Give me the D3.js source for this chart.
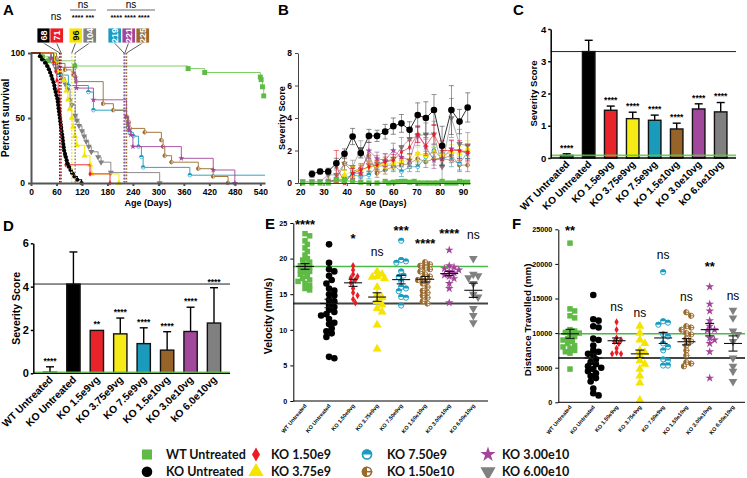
<!DOCTYPE html>
<html><head><meta charset="utf-8">
<script src="https://cdn.jsdelivr.net/npm/d3@7"></script>
<style>body{margin:0;background:#fff}svg{display:block}</style>
</head><body>
<svg id="c" width="747" height="478"></svg>
<script>
// ================= DATA =================
const groupNames = ["WT Untreated","KO Untreated","KO 1.50e9","KO 3.75e9","KO 7.50e9","KO 1.50e10","KO 3.00e10","KO 6.00e10"];
const groupColors = ["#5fbb46","#000000","#ec1c24","#f4e400","#1b9bbf","#9a6a2c","#a3469b","#808080"];
const symTypes = ["square","circle","diamond","triUp","half","quarter","star","triDown"];
const barLabels = ["WT Untreated","KO Untreated","KO 1.5e9vg","KO 3.75e9vg","KO 7.5e9vg","KO 1.5e10vg","KO 3.0e10vg","kO 6.0e10vg"];
const smallLabels = ["WT Untreated","KO Untreated","KO 1.50e9vg","KO 3.75e9vg","KO 7.50e9vg","KO 1.50e10vg","KO 3.00e10vg","KO 6.00e10vg"];

// Panel A: Kaplan-Meier steps [day, percent surviving]
const survWT = [[0,100],[27,97],[41,94],[103,90],[370,88],[409,85],[540,81.5],[542,79.5],[545,74],[548,67]];
const survKO = [[0,100],[21,97.5],[26,95],[33,92.5],[38,90],[42,87.5],[45,85],[48,82.5],[50,80],[53,77.5],[55,75],[56,72.5],[58,70],[60,67.5],[62,65],[63,62.5],[64,60],[65,57.5],[66,55],[67,52.5],[68,50],[69,47.5],[70,45],[71,42.5],[72,40],[73,37.5],[74,35],[75,32.5],[76,30],[77,27.5],[78,25],[80,22.5],[82,20],[84,17.5],[86,15],[89,12.5],[93,10],[97,7.5],[102,5],[109,2.5],[119,0]];
const survR = [[0,100],[53,93],[58,86],[61,79],[64,71],[66,64],[68,57],[70,50],[72,43],[74,36],[77,29],[79,21],[82,14],[139,7],[186,0]];
const survY = [[0,100],[55,93],[67,86],[77,79],[83,71],[87,64],[91,57],[96,50],[99,43],[103,36],[108,29],[126,21],[139,14],[143,7],[207,0]];
const survT = [[0,100],[55,94],[64,83],[88,75],[135,70],[147,56],[225,50],[228,43],[233,39],[241,36],[253,28],[260,20],[264,12],[374,6],[551,6]];
const survB = [[0,100],[60,96],[64,92],[80,87],[100,83],[107,78],[170,61],[194,56],[225,51],[230,47],[233,42],[268,39],[307,33],[311,28],[315,21],[331,16],[394,11],[429,5],[464,0]];
const survP = [[0,100],[48,96],[55,92],[67,89],[100,85],[105,81],[107,73],[147,64],[225,51],[228,46],[230,41],[235,37],[240,28],[354,19],[429,10],[480,0]];
const survG = [[0,100],[46,96],[53,92],[59,88],[67,84],[75,80],[81,76],[86,72],[92,64],[96,60],[104,52],[108,48],[113,44],[120,40],[125,36],[130,32],[136,28],[142,24],[158,20],[165,16],[188,8],[303,0]];
const ageTicksA = [0,60,120,180,240,300,360,420,480,540];
const medianDays = [68,71,96,104,219,221,225];
const medianLabels = ["68","71","96","104","219","221","225"];
const medianColors = ["#000000","#ec1c24","#f4e400","#808080","#1b9bbf","#a3469b","#9a6a2c"];

// Panel B: severity over age
const sevDays = [21,25,28.5,32,35.5,39,42.5,46,49.5,53,56.5,60,63.5,67,70.5,74,77.5,81,85,88.5,92];
const sevKO   = [null,0.55,0.71,0.71,1.22,1.8,2.86,1.84,2.9,2.9,3.16,3.5,3.67,3.27,4.18,4.0,4.49,2.29,4.49,3.78,4.65];
const sevKOErr= [null,0.2,0.15,0.2,0.3,0.3,0.5,0.3,0.4,0.35,0.45,0.5,0.55,0.5,0.75,1.0,0.95,1.2,1.5,0.75,0.9];
const sevR    = [null,null,null,null,1.0,0.05,0.6,0.8,1.0,1.1,1.3,1.4,1.9,2.2,3.0,2.3,3.0,2.0,2.0,2.0,1.9];
const sevRErr = [null,null,null,null,1.0,0.05,0.3,0.3,0.3,0.3,0.3,0.35,0.4,0.4,0.5,0.5,0.6,0.6,0.6,0.6,0.5];
const sevY    = [null,null,null,0.1,0.1,0.5,0.7,0.8,1.0,1.1,1.2,1.2,1.3,1.4,1.8,1.7,1.9,1.7,1.9,1.8,2.1];
const sevYErr = [null,null,null,0.1,0.1,0.3,0.3,0.3,0.3,0.3,0.3,0.3,0.35,0.35,0.4,0.4,0.4,0.4,0.45,0.45,0.5];
const sevT    = [null,null,null,0.1,0.1,0.3,0.5,0.4,0.5,1.0,1.1,1.1,0.7,1.0,1.0,1.6,2.0,1.5,1.4,1.2,1.9];
const sevTErr = [null,null,null,0.1,0.1,0.2,0.25,0.25,0.25,0.3,0.3,0.3,0.3,0.3,0.3,0.35,0.35,0.35,0.4,0.4,0.4];
const sevB    = [null,null,null,0.1,0.2,1.2,0.7,0.9,1.7,0.6,0.8,1.0,1.1,1.2,1.5,1.3,1.5,1.5,1.7,1.1,1.1];
const sevBErr = [null,null,null,0.1,0.15,0.4,0.3,0.3,0.3,0.25,0.25,0.3,0.3,0.3,0.35,0.35,0.4,0.4,0.45,0.4,0.4];
const sevP    = [null,null,null,0.1,0.2,0.0,0.6,0.6,2.0,1.5,1.4,2.0,1.6,1.4,3.0,2.2,1.4,1.5,2.1,2.0,1.8];
const sevPErr = [null,null,null,0.1,0.15,0.05,0.3,0.3,0.5,0.4,0.4,0.45,0.4,0.4,0.5,0.5,0.5,0.5,0.55,0.5,0.5];
const sevG    = [0.1,0.1,0.1,0.5,0.5,1.2,1.0,2.1,1.1,1.2,1.3,1.5,2.2,2.7,2.9,3.0,3.0,1.0,4.0,2.4,2.3];
const sevGErr = [0.1,0.1,0.1,0.2,0.3,0.4,0.4,0.5,0.5,0.5,0.5,0.55,0.6,0.6,0.6,0.7,0.8,0.8,1.2,0.9,0.8];
const wtSevDays = [21,25,28.5,32,35.5,39,42.5,46,49.5,53,56.5,58,60,62,63.5,65,67,69,70.5,72,74,75.5,77.5,79,81,83,85,87,88.5,90,92];
const wtSev     = [0,0,0,0,0.2,0.15,0.1,0.05,0,0,0.1,0,0.05,0.08,0.1,0.1,0.05,0.1,0,0,0,0,0,0,0.1,0,0,0,0.1,0.05,0.05];
const ageTicksB = [20,30,40,50,60,70,80,90];

// Panel C / D: severity bars
const cMeans = [0.08,3.3,1.48,1.22,1.17,0.9,1.52,1.43];
const cErrs  = [0.05,0.35,0.13,0.2,0.16,0.18,0.16,0.29];
const cStats = ["****","","****","****","****","****","****","****"];
const dMeans = [0.05,4.12,1.98,1.82,1.37,1.07,1.93,2.32];
const dErrs  = [0.25,1.48,0,0.73,0.73,0.85,1.12,1.63];
const dStats = ["****","","**","****","****","****","****","****"];
const barColors = ["#1d6b33","#000000","#e8232a","#f6eb14","#1b9bbb","#966428","#a1489c","#808080"];

// Panel E: velocity (mm/s)
const velWT = [23.5,23.2,22.5,22,21.5,21,20.5,20,19.8,19.5,19.2,19,18.8,18.6,18.4,18.2,18,17.8,17.5,17.2,17,16.8,16.5,16.2,15.8,15.6];
const velKO = [22,19.4,18.5,18.2,17.6,17.0,16.5,15.8,15.5,15.0,14.8,14.2,14.0,13.5,13.2,12.8,12.5,12.2,12.0,11.5,11.0,10.8,10.2,9.8,9.5,9.0,6.2,6.0];
const velR  = [19.0,18.4,17.8,17.5,17.3,17.0,16.6,15.8,15.2,14.8,14.3,13.8];
const velY  = [18.2,17.8,17.5,17.4,17.2,16.0,15.0,14.5,14.0,13.5,13.0,12.5,10.7,7.3];
const velT  = [22.5,19.8,19.6,19.4,18.2,17.6,17.4,16.8,16.0,15.8,15.4,14.6,14.5,13.4];
const velB  = [19.5,19.2,19.0,18.7,18.5,18.2,17.8,17.5,17.2,17.0,16.8,16.5,16.0,15.5,15.2,14.8,14.5,14.0,13.7];
const velP  = [21.2,19.0,18.8,18.6,18.4,18.2,18.0,17.7,17.5,17.2,16.5,15.8,13.8];
const velG  = [20.0,17.8,17.6,17.3,16.5,15.0,14.6,13.0,12.0,11.0];
const velMean = [18.9,13.7,16.6,14.6,17.05,17.1,17.9,15.55];
const velSem  = [0.4,0.6,0.5,0.6,0.6,0.4,0.3,1.0];
const velStats = ["****","","*","ns","***","****","****","ns"];
const velStatsAt = [25.0,null,23.0,20.9,24.2,22.3,23.7,23.2];
const velTicks = [0,5,10,15,20,25];

// Panel F: distance travelled (mm)
const distWT = [23000,13500,13200,12500,12200,10500,10300,10100,10000,9800,9500,9200,9000,8800,8500,8200,8000,7800,7500,7300,7100,4800];
const distKO = [15500,12000,11800,11000,10800,9200,9000,8200,7500,7300,7000,6800,6200,5800,5500,5200,5000,4800,4500,4200,3800,3500,3000,2000,1300,1000];
const distR  = [11600,10500,9300,9000,8800,8500,7800,7200,7000,7000];
const distY  = [11000,10000,9000,8500,7500,7200,6800,6000,5500,4800,3800,2800,300];
const distT  = [18800,11700,11500,11200,9800,9500,8500,8000,7500,6200,6000,5300,5300];
const distB  = [13000,12500,11000,10800,10500,10000,9800,9200,8800,8200,7500,6800,5800,5600,5200];
const distP  = [16700,14200,13200,11800,11000,10500,10400,9300,9000,8500,7300,3500];
const distG  = [13300,12200,10300,9800,8800,6400,5200,4500,3000];
const distMean = [9900,6400,8900,7000,9300,8750,10500,8500];
const distSem  = [650,600,400,550,800,450,900,1100];
const distStats = ["**","","ns","ns","ns","ns","**","ns"];
const distStatsAt = [25000,null,13650,12900,21150,15200,19850,15350];
const distTicks = [0,5000,10000,15000,20000,25000];

// ================= DRAWING =================
const F = '"Liberation Sans", Arial, Helvetica, sans-serif';
const svg = d3.select("#c");
svg.append("rect").attr("width",747).attr("height",478).attr("fill","#fff");

function T(p,x,y,s,o={}){
  const t = p.append("text").attr("x",x).attr("y",y).text(s)
    .attr("font-family",o.ff||F).attr("font-size",o.fs||10).attr("font-weight",o.fw||"bold")
    .attr("fill",o.fill||"#000").attr("text-anchor",o.anchor||"start");
  if(o.rot!=null) t.attr("transform",`rotate(${o.rot},${x},${y})`);
  if(o.db) t.attr("dominant-baseline",o.db);
  return t;
}
function styleAxis(g,fs,lw,col){
  g.attr("font-family",null).attr("font-size",null);
  g.selectAll("text").attr("font-family",F).attr("font-size",fs).attr("font-weight","bold").attr("fill","#000");
  g.selectAll(".tick line").attr("stroke",col).attr("stroke-width",lw);
  g.select(".domain").attr("stroke",col).attr("stroke-width",lw);
}
function sym(p,type,x,y,r,color){
  const g = p.append("g").attr("transform",`translate(${x},${y})`);
  if(type==="half"){
    g.append("circle").attr("r",r*0.85).attr("fill","#fff").attr("stroke",color).attr("stroke-width",r*0.3);
    g.append("path").attr("d",`M${-r},0A${r},${r} 0 0 1 ${r},0Z`).attr("fill",color);
  } else if(type==="quarter"){
    g.append("circle").attr("r",r*0.85).attr("fill","#fff").attr("stroke",color).attr("stroke-width",r*0.3);
    g.append("path").attr("d",`M0,${-r}A${r},${r} 0 0 0 0,${r}Z`).attr("fill",color);
    g.append("line").attr("x1",0).attr("x2",r).attr("y1",0).attr("y2",0).attr("stroke",color).attr("stroke-width",r*0.3);
  } else {
    const m = {square:d3.symbolSquare,circle:d3.symbolCircle,diamond:d3.symbolDiamond,triUp:d3.symbolTriangle,triDown:d3.symbolTriangle,star:d3.symbolStar}[type];
    const a = {square:3.6*r*r,circle:Math.PI*r*r,diamond:2.0*r*r,triUp:3.6*r*r,triDown:3.6*r*r,star:2.6*r*r}[type];
    const path = g.append("path").attr("d",d3.symbol(m,a)()).attr("fill",color);
    if(type==="triDown") path.attr("transform","rotate(180)");
  }
  return g;
}

// ---------- Panel A ----------
{
  const g = svg.append("g");
  const xA = d3.scaleLinear().domain([0,551]).range([31,265]);
  const yA = d3.scaleLinear().domain([0,100]).range([183,53]);
  T(g,3,15,"A",{fs:15});
  const survAll = [survWT,survKO,survR,survY,survT,survB,survP,survG];
  const order = [0,7,4,5,6,3,2,1];
  const line = d3.line().x(d=>xA(d[0])).y(d=>yA(d[1])).curve(d3.curveStepAfter);
  order.forEach(i=>{
    const col = i===0 ? "#6fcb55" : groupColors[i];
    g.append("path").datum(survAll[i]).attr("d",line).attr("fill","none").attr("stroke",col).attr("stroke-width",i===1?1.2:1).attr("opacity",i===1?1:0.9);
    survAll[i].slice(1).forEach(d=>{
      if(d[0]>=551) return;
      sym(g,symTypes[i],xA(d[0]),yA(d[1]),i===0?2.6:2.1,groupColors[i]);
    });
  });
  medianDays.forEach((m,i)=>{
    g.append("line").attr("x1",xA(m)).attr("x2",xA(m)).attr("y1",yA(100)).attr("y2",yA(0))
      .attr("stroke",medianColors[i]).attr("stroke-width",1.4).attr("stroke-dasharray","1.6,1.6");
  });
  const ax = g.append("g").attr("transform","translate(0,183)")
    .call(d3.axisBottom(xA).tickValues(ageTicksA).tickSize(3).tickSizeOuter(0));
  styleAxis(ax,8.5,2,"#555");
  const ay = g.append("g").attr("transform","translate(31,0)")
    .call(d3.axisLeft(yA).tickValues([0,50,100]).tickSize(3).tickSizeOuter(0));
  styleAxis(ay,8.5,2,"#555");
  T(g,9,118,"Percent survival",{fs:10.2,anchor:"middle",rot:-90});
  T(g,148,206,"Age (Days)",{fs:9,anchor:"middle"});
  const boxX = [37,50,69,83,108,122,136];
  medianLabels.forEach((lab,i)=>{
    g.append("line").attr("x1",boxX[i]+6.5).attr("y1",43).attr("x2",xA(medianDays[i])).attr("y2",53)
      .attr("stroke","#333").attr("stroke-width",0.8);
    g.append("rect").attr("x",boxX[i]).attr("y",28).attr("width",13.5).attr("height",15)
      .attr("fill",medianColors[i]).attr("stroke","#fff").attr("stroke-width",0.8);
    T(g,boxX[i]+7,35.5,lab,{fs:9,anchor:"middle",db:"central",rot:-90,fill:i===2?"#000":"#fff"});
  });
  T(g,56,20,"ns",{fs:10,fw:"normal",anchor:"middle"});
  g.append("line").attr("x1",70).attr("x2",96).attr("y1",10).attr("y2",10).attr("stroke","#444").attr("stroke-width",0.8);
  T(g,83,8,"ns",{fs:10,fw:"normal",anchor:"middle"});
  T(g,83,20,"**** ***",{fs:7.5,fw:"bold",anchor:"middle"});
  g.append("line").attr("x1",107).attr("x2",155).attr("y1",10).attr("y2",10).attr("stroke","#444").attr("stroke-width",0.8);
  T(g,131,8,"ns",{fs:10,fw:"normal",anchor:"middle"});
  T(g,130,20,"**** **** ****",{fs:7.5,fw:"bold",anchor:"middle"});
}

// ---------- Panel B ----------
{
  const g = svg.append("g");
  const xB = d3.scaleLinear().domain([19,93]).range([298,470]);
  const yB = d3.scaleLinear().domain([0,8]).range([183,53]);
  T(g,278,15,"B",{fs:15});
  const vals = [null,sevKO,sevR,sevY,sevT,sevB,sevP,sevG];
  const errs = [null,sevKOErr,sevRErr,sevYErr,sevTErr,sevBErr,sevPErr,sevGErr];
  const line = d3.line().defined(d=>d[1]!=null).x(d=>xB(d[0])).y(d=>yB(d[1]));
  const order = [7,5,4,3,6,2,1];
  order.forEach(i=>{
    const pts = sevDays.map((d,k)=>[d,vals[i][k],errs[i][k]]);
    const col = groupColors[i];
    const ecol = i===1 ? "#444" : col;
    pts.forEach(p=>{
      if(p[1]==null) return;
      const y1 = yB(Math.max(0,p[1]-p[2])), y2 = yB(p[1]+p[2]), x = xB(p[0]);
      g.append("line").attr("x1",x).attr("x2",x).attr("y1",y1).attr("y2",y2).attr("stroke",ecol).attr("stroke-width",0.8).attr("opacity",0.75);
      [y1,y2].forEach(yy=>g.append("line").attr("x1",x-2.5).attr("x2",x+2.5).attr("y1",yy).attr("y2",yy).attr("stroke",ecol).attr("stroke-width",0.8).attr("opacity",0.75));
    });
    g.append("path").datum(pts).attr("d",line).attr("fill","none").attr("stroke",i===1?"#333":col).attr("stroke-width",i===1?1:0.8).attr("opacity",i===1?1:0.8);
    pts.forEach(p=>{ if(p[1]!=null) sym(g,symTypes[i],xB(p[0]),yB(p[1]),i===1?3.3:2.2,col); });
  });
  const wtPts = wtSevDays.map((d,k)=>[d,wtSev[k]]);
  g.append("path").datum(wtPts).attr("d",line).attr("fill","none").attr("stroke","#5fbb46").attr("stroke-width",1);
  wtPts.forEach(p=>sym(g,"square",xB(p[0]),yB(p[1]),2.7,"#5fbb46"));
  const ax = g.append("g").attr("transform","translate(0,183)")
    .call(d3.axisBottom(xB).tickValues(ageTicksB).tickSize(3).tickSizeOuter(0));
  styleAxis(ax,8.5,1,"#444");
  const ay = g.append("g").attr("transform","translate(298,0)")
    .call(d3.axisLeft(yB).tickValues([0,2,4,6,8]).tickSize(3).tickSizeOuter(0));
  styleAxis(ay,8.5,1,"#444");
  T(g,285,118,"Severity Score",{fs:9.2,anchor:"middle",rot:-90});
  T(g,383,206,"Age (Days)",{fs:9,anchor:"middle"});
}

// ---------- Bar panels C and D ----------
function barPanel(o){
  const g = svg.append("g");
  const x = d3.scalePoint().domain(barLabels).range(o.xr);
  const y = d3.scaleLinear().domain([0,o.ymax]).range([o.y0,o.y1]);
  T(g,o.lx,o.ly,o.letter,{fs:15});
  g.append("line").attr("x1",o.ax).attr("x2",o.axEnd).attr("y1",y(o.means[1])).attr("y2",y(o.means[1])).attr("stroke","#222").attr("stroke-width",1);
  barLabels.forEach((c,i)=>{
    const cx = x(c), top = y(o.means[i]);
    const et = y(o.means[i]+o.errs[i]);
    if(o.errs[i]>0){
      g.append("line").attr("x1",cx).attr("x2",cx).attr("y1",top).attr("y2",et).attr("stroke","#000").attr("stroke-width",1.4);
      g.append("line").attr("x1",cx-4).attr("x2",cx+4).attr("y1",et).attr("y2",et).attr("stroke","#000").attr("stroke-width",1.4);
    }
    g.append("rect").attr("x",cx-o.bw/2).attr("y",top).attr("width",o.bw).attr("height",y(0)-top)
      .attr("fill",o.colors[i]).attr("stroke","#111").attr("stroke-width",1.4);
    if(o.stats[i]) T(g,cx,et-3.2,o.stats[i],{fs:8.5,anchor:"middle"});
    T(g,cx+3.5,o.y0+7,c,{fs:o.lfs,anchor:"end",rot:-45});
  });
  g.append("line").attr("x1",o.ax).attr("x2",o.axEnd).attr("y1",y(0)).attr("y2",y(0)).attr("stroke","#000").attr("stroke-width",1.5);
  g.append("line").attr("x1",o.ax).attr("x2",o.axEnd).attr("y1",y(o.means[0])).attr("y2",y(o.means[0])).attr("stroke","#62c24a").attr("stroke-width",1.6).attr("opacity",0.85);
  const ay = g.append("g").attr("transform",`translate(${o.ax},0)`)
    .call(d3.axisLeft(y).tickValues(o.ticks).tickFormat(d3.format("d")).tickSize(2.5).tickPadding(2).tickSizeOuter(0));
  styleAxis(ay,o.tfs,1.5,"#000");
  T(g,o.titleX,(o.y0+o.y1)/2,"Severity Score",{fs:o.titleFs,anchor:"middle",rot:-90});
}
barPanel({letter:"C",lx:513,ly:15,xr:[566.7,720.7],ymax:4,y0:158,y1:29,ax:550.7,axEnd:736,bw:12.5,
  means:cMeans,errs:cErrs,stats:cStats,colors:barColors,ticks:[0,1,2,3,4],tfs:9.5,titleX:537,titleFs:9.5,lfs:10});
const dColors = barColors.slice(); dColors[0] = "#5fbb46";
barPanel({letter:"D",lx:3,ly:231,xr:[50,214],ymax:6,y0:373.3,y1:243.3,ax:33.3,axEnd:230,bw:13.3,
  means:dMeans,errs:dErrs,stats:dStats,colors:dColors,ticks:[0,2,4,6],tfs:11,titleX:20,titleFs:10.5,lfs:10.3});

// ---------- Scatter panels E and F ----------
function swarm(vals,y,cx,r){
  const pts = vals.map(v=>({v,y:y(v)})).sort((a,b)=>a.y-b.y);
  const placed = [];
  const dmin = 2*r*0.72;
  pts.forEach(p=>{
    for(let k=0;k<60;k++){
      const off = k===0 ? 0 : (k%2 ? 1 : -1)*Math.ceil(k/2)*r*0.8;
      const xx = cx+off;
      if(placed.every(q=>(q.x-xx)**2+(q.y-p.y)**2 >= dmin*dmin)){ p.x = xx; break; }
    }
    if(p.x==null) p.x = cx;
    placed.push(p);
  });
  return placed;
}
function scatterPanel(o){
  const g = svg.append("g");
  const x = d3.scalePoint().domain(smallLabels).range(o.xr);
  const y = d3.scaleLinear().domain([0,o.ymax]).range([o.y0,o.y1]);
  T(g,o.lx,o.ly,o.letter,{fs:15});
  g.append("line").attr("x1",o.ax).attr("x2",o.axEnd).attr("y1",y(o.means[0])).attr("y2",y(o.means[0])).attr("stroke","#4cb848").attr("stroke-width",1.4);
  g.append("line").attr("x1",o.ax).attr("x2",o.axEnd).attr("y1",y(o.means[1])).attr("y2",y(o.means[1])).attr("stroke","#444").attr("stroke-width",2);
  smallLabels.forEach((c,i)=>{
    const cx = x(c);
    swarm(o.vals[i],y,cx,o.r[i]).forEach(p=>sym(g,symTypes[i],p.x,p.y,o.r[i],groupColors[i]));
    const m = y(o.means[i]), a = y(o.means[i]+o.sems[i]), b = y(o.means[i]-o.sems[i]);
    g.append("line").attr("x1",cx-9).attr("x2",cx+9).attr("y1",m).attr("y2",m).attr("stroke","#111").attr("stroke-width",1.1);
    g.append("line").attr("x1",cx).attr("x2",cx).attr("y1",a).attr("y2",b).attr("stroke","#111").attr("stroke-width",1.1);
    [a,b].forEach(yy=>g.append("line").attr("x1",cx-4.5).attr("x2",cx+4.5).attr("y1",yy).attr("y2",yy).attr("stroke","#111").attr("stroke-width",1.1));
    if(o.stats[i]){
      const isNs = o.stats[i]==="ns";
      T(g,cx,y(o.statsAt[i])+(isNs?3.5:6),o.stats[i],{fs:isNs?12:13,fw:isNs?"normal":"bold",anchor:"middle"});
    }
    T(g,cx+2,o.y0+5,c,{fs:5.5,anchor:"end",rot:-50});
  });
  g.append("line").attr("x1",o.ax).attr("x2",o.axEnd).attr("y1",o.y0).attr("y2",o.y0).attr("stroke","#000").attr("stroke-width",1);
  const ay = g.append("g").attr("transform",`translate(${o.ax},0)`)
    .call(d3.axisLeft(y).tickValues(o.ticks).tickFormat(d3.format("d")).tickSize(3).tickSizeOuter(0));
  styleAxis(ay,7.2,1,"#000");
  T(g,o.titleX,(o.y0+o.y1)/2+4,o.title,{fs:o.titleFs,anchor:"middle",rot:-90});
}
scatterPanel({letter:"E",lx:265,ly:229,xr:[305,473.3],ymax:25,y0:401,y1:223,ax:293.3,axEnd:488,
  vals:[velWT,velKO,velR,velY,velT,velB,velP,velG],means:velMean,sems:velSem,stats:velStats,statsAt:velStatsAt,
  r:[2.9,3.3,2.8,3.1,3,3,3,3],ticks:velTicks,title:"Velocity (mm/s)",titleX:272,titleFs:10.4});
scatterPanel({letter:"F",lx:512,ly:229,xr:[570,733],ymax:25000,y0:402.3,y1:229.3,ax:558.3,axEnd:745,
  vals:[distWT,distKO,distR,distY,distT,distB,distP,distG],means:distMean,sems:distSem,stats:distStats,statsAt:distStatsAt,
  r:[2.9,3.3,2.8,3.1,3,3,3,3],ticks:distTicks,title:"Distance Travelled (mm)",titleX:531,titleFs:9.8});

// ---------- Legend ----------
{
  const g = svg.append("g");
  const cols = [[147,166],[256,271],[367,387],[488,502]];
  const rows = [454.5,471.7];
  const pos = [[0,0],[0,1],[1,0],[1,1],[2,0],[2,1],[3,0],[3,1]];
  groupNames.forEach((n,i)=>{
    const [c,r] = pos[i];
    sym(g,symTypes[i],cols[c][0],rows[r],5.3,groupColors[i]);
    T(g,cols[c][1],rows[r]+4.5,n,{ff:'Lato, "Open Sans", sans-serif',fs:12.5,fw:"bold",fill:"#111"});
  });
}
</script>
</body></html>
